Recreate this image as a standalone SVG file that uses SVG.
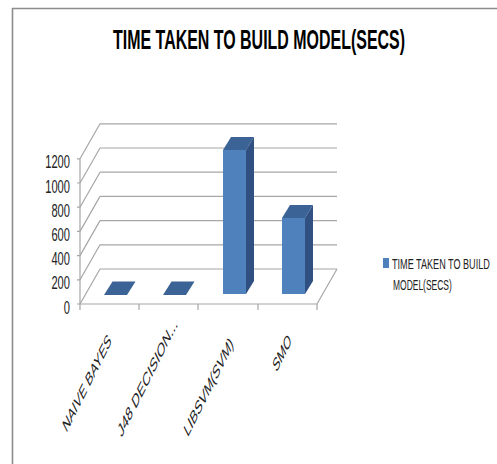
<svg xmlns="http://www.w3.org/2000/svg" width="497" height="464" viewBox="0 0 497 464">
<style>
.grid{stroke:#A6A6A6;stroke-width:1.2;fill:none}
.front{fill:#4F81BD}
.top{fill:#3B6396}
.side{fill:#2F5080}
.ylab{font-family:"Liberation Sans",Arial,sans-serif;font-size:18px;fill:#222;text-anchor:end}
.xlab{font-family:"Liberation Sans",Arial,sans-serif;font-size:19px;fill:#222;text-anchor:end}
.leg{font-family:"Liberation Sans",Arial,sans-serif;font-size:15px;fill:#222}
</style>
<rect width="497" height="464" fill="#fff"/>
<path d="M12.5,464 V8.5 H497" stroke="#8C8C8C" stroke-width="1.6" fill="none"/>
<text transform="translate(259,49) scale(0.567,1)" x="0" y="0" font-family="'Liberation Sans',Arial,sans-serif" font-size="28" font-weight="bold" text-anchor="middle" textLength="515" lengthAdjust="spacingAndGlyphs" fill="#000">TIME TAKEN TO BUILD MODEL(SECS)</text>
<g id="axes">
<path class="grid" d="M100,269 H337 M100,244.8 H337 M100,220.6 H337 M100,196.4 H337 M100,172.2 H337 M100,148 H337 M100,123.8 H337"/>
<path class="grid" d="M80,304 L100,269 M80,279.8 L100,244.8 M80,255.6 L100,220.6 M80,231.4 L100,196.4 M80,207.2 L100,172.2 M80,183 L100,148 M80,158.8 L100,123.8"/>
<path class="grid" d="M80,158.8 V304 H317 L337,269"/>
<path class="grid" d="M77,304 H80 M77,279.8 H80 M77,255.6 H80 M77,231.4 H80 M77,207.2 H80 M77,183 H80 M77,158.8 H80"/>
<path class="grid" d="M80,304 V310 M139,304 V310 M198,304 V310 M258,304 V310 M317,304 V310"/>
<text class="ylab" transform="translate(70,313.5) scale(0.62,1)">0</text>
<text class="ylab" transform="translate(70,289.3) scale(0.62,1)">200</text>
<text class="ylab" transform="translate(70,265.1) scale(0.62,1)">400</text>
<text class="ylab" transform="translate(70,240.9) scale(0.62,1)">600</text>
<text class="ylab" transform="translate(70,216.7) scale(0.62,1)">800</text>
<text class="ylab" transform="translate(70,192.5) scale(0.62,1)">1000</text>
<text class="ylab" transform="translate(70,168.3) scale(0.62,1)">1200</text>
</g>
<g id="bar-naive-bayes">
<polygon class="top" points="104,295 127,295 135.5,281.5 112.5,281.5"/>
</g>
<g id="bar-j48">
<polygon class="top" points="163,295 186,295 194.5,281.5 171.5,281.5"/>
</g>
<g id="bar-libsvm">
<rect class="front" x="223" y="150" width="23" height="144"/>
<polygon class="top" points="223,150 246,150 254,137 231,137"/>
<polygon class="side" points="246,150 254,137 254,281 246,294"/>
</g>
<g id="bar-smo">
<rect class="front" x="282" y="218" width="23" height="76"/>
<polygon class="top" points="282,218 305,218 313,205 290,205"/>
<polygon class="side" points="305,218 313,205 313,281 305,294"/>
</g>
<g id="category-labels">
<text class="xlab" transform="translate(112,342) scale(0.5,1) rotate(-45)" textLength="129" lengthAdjust="spacingAndGlyphs">NAIVE BAYES</text>
<text class="xlab" transform="translate(178,325) scale(0.5,1) rotate(-45)" textLength="160" lengthAdjust="spacingAndGlyphs">J48 DECISION...</text>
<text class="xlab" transform="translate(234,345) scale(0.5,1) rotate(-45)" textLength="131" lengthAdjust="spacingAndGlyphs">LIBSVM(SVM)</text>
<text class="xlab" transform="translate(292,342) scale(0.5,1) rotate(-45)" textLength="44" lengthAdjust="spacingAndGlyphs">SMO</text>
</g>
<g id="legend">
<rect x="383" y="258" width="6" height="10" fill="#4F81BD"/>
<text class="leg" transform="translate(392,268.5) scale(0.6,1)" textLength="163" lengthAdjust="spacingAndGlyphs">TIME TAKEN TO BUILD</text>
<text class="leg" transform="translate(393,289.5) scale(0.6,1)" textLength="98" lengthAdjust="spacingAndGlyphs">MODEL(SECS)</text>
</g>
</svg>
